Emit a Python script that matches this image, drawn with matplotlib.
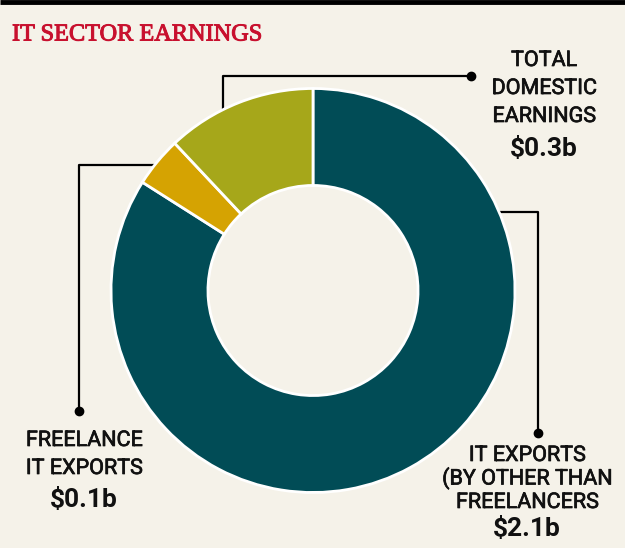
import numpy as np
import matplotlib
matplotlib.use("Agg")
import matplotlib.pyplot as plt
import matplotlib.patheffects as pe

# earnings in billions of dollars, clockwise from 12 o'clock
segments = ["IT exports (other)", "Freelance IT exports", "Total domestic earnings"]
values = [2.1, 0.1, 0.3]
colors = ["#014c56", "#d5a302", "#a6a71a"]

label_lines = [
    ["TOTAL", "DOMESTIC", "EARNINGS"],
    ["FREELANCE", "IT EXPORTS"],
    ["IT EXPORTS", "(BY OTHER THAN", "FREELANCERS"],
]
value_labels = ["$0.3b", "$0.1b", "$2.1b"]

bg = "#f5f2e9"
text_font = "Roboto"
ink = "#111111"

fig = plt.figure(figsize=(6.25, 5.48), dpi=100, facecolor=bg)
ax = fig.add_axes([0, 0, 1, 1])
ax.set_facecolor(bg)

# donut, pixel coordinates (y goes down)
cx, cy, R = 313, 290.5, 202
ax.pie(values, colors=colors, center=(cx, cy), radius=R,
       startangle=-90, counterclock=True,
       wedgeprops=dict(width=R * 0.48, edgecolor="white", linewidth=2))

ax.set_xlim(0, 625)
ax.set_ylim(548, 0)
ax.set_aspect("equal")
ax.axis("off")

# top rule and title
ax.plot([0, 625], [1.5, 1.5], color="black", lw=3.5, solid_capstyle="butt")
ax.text(12, 40.5, "IT SECTOR EARNINGS", fontsize=17.5, color="#c8102e",
        family="Liberation Serif", va="baseline", ha="left",
        path_effects=[pe.withStroke(linewidth=0.7, foreground="#c8102e")])

# leader lines (drawn under the ring)
leaders = [
    ([223, 223, 471], [112, 76, 76]),
    ([155, 79, 79], [165, 165, 411]),
    ([498, 538, 538], [212, 212, 433]),
]
for xs, ys in leaders:
    ax.plot(xs, ys, color="black", lw=1.6, zorder=0)
    ax.plot(xs[-1], ys[-1], "o", color="black", ms=6, zorder=0)

# label blocks: centre x, first baseline, line step, value baseline
blocks = [(544, 66, 28, 156), (84, 446, 28, 507), (527, 461, 23.5, 536)]
for (x, y0, step, yv), lines, val in zip(blocks, label_lines, value_labels):
    for i, s in enumerate(lines):
        ax.text(x, y0 + i * step, s, fontsize=15.5, family=text_font,
                color=ink, ha="center", va="baseline",
                path_effects=[pe.withStroke(linewidth=0.5, foreground=ink)])
    ax.text(x, yv, val, fontsize=19, family=text_font, weight="bold",
            color=ink, ha="center", va="baseline")

fig.savefig("out.png", dpi=100, facecolor=bg)
